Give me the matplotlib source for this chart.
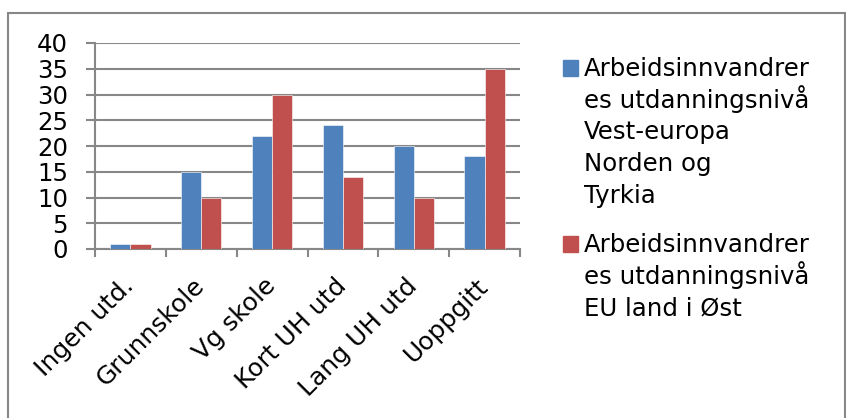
import matplotlib
matplotlib.use("Agg")
import matplotlib.pyplot as plt
from matplotlib.patches import Rectangle
import numpy as np

categories = ["Ingen utd.", "Grunnskole", "Vg skole", "Kort UH utd", "Lang UH utd", "Uoppgitt"]
vest_norden_tyrkia = [1, 15, 22, 24, 20, 18]
eu_ost = [1, 10, 30, 14, 10, 35]
series_names = [
    "Arbeidsinnvandrer\nes utdanningsnivå\nVest-europa\nNorden og\nTyrkia",
    "Arbeidsinnvandrer\nes utdanningsnivå\nEU land i Øst",
]
yticks = [0, 5, 10, 15, 20, 25, 30, 35, 40]

BLUE = "#4F81BD"
RED = "#C0504D"
GRID = "#878787"
FS = 17.6
PX = 0.72  # points per pixel at dpi 100

plt.rcParams["font.family"] = ["DejaVu Sans"]

W, H = 846, 418
fig = plt.figure(figsize=(W / 100, H / 100), dpi=100)

# outer chart frame
fig.patches.append(Rectangle((8 / W, -0.1), (845 - 8) / W, (H - 13) / H + 0.1,
                             transform=fig.transFigure, fill=False,
                             edgecolor=GRID, lw=1.5))

ax = fig.add_axes([95 / W, (H - 249) / H, (520 - 95) / W, (249 - 43) / H])
x = np.arange(len(categories))
bw = 0.285
ax.bar(x - bw / 2, vest_norden_tyrkia, bw, color=BLUE, edgecolor="white", linewidth=0.4, zorder=3)
ax.bar(x + bw / 2, eu_ost, bw, color=RED, edgecolor="white", linewidth=0.4, zorder=3)

ax.set_xlim(-0.5, len(categories) - 0.5)
ax.set_ylim(0, 40)
ax.set_yticks(yticks)
ax.set_yticklabels([str(v) for v in yticks], fontsize=FS)
ax.yaxis.grid(True, color=GRID, lw=1.5, zorder=0)

ax.set_xticks(np.arange(len(categories) + 1) - 0.5)
ax.set_xticklabels([])
ax.set_xticks(x, minor=True)
ax.set_xticklabels(categories, minor=True, rotation=45, ha="right", va="center",
                   rotation_mode="anchor", fontsize=FS + 0.4)
ax.tick_params(axis="x", which="major", direction="out", length=8 * PX, color=GRID, width=1.5)
ax.tick_params(axis="x", which="minor", length=0, pad=33 * PX)
ax.tick_params(axis="y", direction="out", length=9 * PX, color=GRID, width=1.5, pad=18 * PX)

for s in ["top", "right"]:
    ax.spines[s].set_visible(False)
for s in ["left", "bottom"]:
    ax.spines[s].set_color(GRID)
    ax.spines[s].set_linewidth(1.5)

# legend drawn manually to mimic Excel layout (square at first line, fixed line pitch)
first_baselines = [76, 252]
pitch = 31.7
for name, col, base in zip(series_names, [BLUE, RED], first_baselines):
    fig.patches.append(Rectangle((563 / W, (H - base) / H), 15 / W, 16 / H,
                                 transform=fig.transFigure, color=col))
    for i, line in enumerate(name.split("\n")):
        fig.text(584 / W, (H - base - i * pitch) / H, line, fontsize=FS,
                 va="baseline", ha="left", transform=fig.transFigure)

fig.savefig("out.png", dpi=100)
